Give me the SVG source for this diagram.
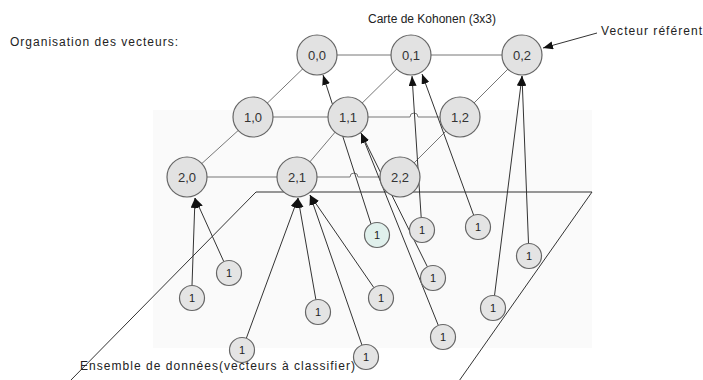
<svg xmlns="http://www.w3.org/2000/svg" width="703" height="380" viewBox="0 0 703 380">
  <defs>
    <marker id="ah" markerUnits="userSpaceOnUse" markerWidth="10" markerHeight="8" refX="10" refY="4" orient="auto">
      <path d="M0,0 L10,4 L0,8 z" fill="#111"/>
    </marker>
  </defs>
  <style>
    .txt { font-family: "Liberation Sans", Arial, sans-serif; font-size: 12px; fill: #222; }
    .grid { stroke: #777; stroke-width: 1; fill: none; }
    .plane { stroke: #333; stroke-width: 1; fill: none; }
    .arr { stroke: #333; stroke-width: 1; fill: none; marker-end: url(#ah); }
    .map circle { fill: #e2e2e2; stroke: #666; stroke-width: 1.2; }
    .map text { font-family: "Liberation Sans", Arial, sans-serif; font-size: 13px; fill: #333; text-anchor: middle; }
    .dat circle { fill: #e4e4e4; stroke: #666; stroke-width: 1.2; }
    .dat text { font-family: "Liberation Sans", Arial, sans-serif; font-size: 11px; fill: #222; text-anchor: middle; }
  </style>
  <rect x="0" y="0" width="703" height="380" fill="#fff"/>
  <rect x="153" y="110" width="439" height="238" fill="#fafafa"/>

  <!-- data set plane -->
  <path class="plane" d="M70,381 L256,192 L592,192 L459,381"/>

  <g id="connectors">
    <!-- map grid -->
    <path class="grid" d="M317,55 H522"/>
    <path class="grid" d="M253,117 H348 H410 A4,4 0 0 1 418,117 H460"/>
    <path class="grid" d="M187,177 H297 H350 A4,4 0 0 1 358,177 H400"/>
    <path class="grid" d="M317,55 L253,117 L187,177"/>
    <path class="grid" d="M411,55 L348,117 L297,177"/>
    <path class="grid" d="M522,55 L460,117 L400,177"/>
    <!-- data to map -->
    <line class="arr" x1="192" y1="285.5" x2="195" y2="198"/>
    <line class="arr" x1="223.8" y1="261.6" x2="195" y2="198"/>
    <line class="arr" x1="246.3" y1="338.3" x2="298" y2="198"/>
    <line class="arr" x1="315.9" y1="299.7" x2="298" y2="198"/>
    <line class="arr" x1="373.9" y1="287.7" x2="310" y2="195"/>
    <line class="arr" x1="362" y1="345.2" x2="310" y2="195"/>
    <line class="arr" x1="427.4" y1="266.8" x2="361" y2="133"/>
    <line class="arr" x1="438.3" y1="325.4" x2="361" y2="133"/>
    <line class="arr" x1="371" y1="224" x2="323" y2="75"/>
    <line class="arr" x1="421.2" y1="217.5" x2="412" y2="76"/>
    <line class="arr" x1="473.7" y1="215.3" x2="422" y2="74"/>
    <line class="arr" x1="494.5" y1="295.6" x2="522" y2="76"/>
    <line class="arr" x1="528.5" y1="243.5" x2="522" y2="76"/>
    <!-- label pointer -->
    <line class="arr" x1="597" y1="33" x2="543" y2="48"/>
  </g>

  <g class="map">
    <g id="n00"><circle cx="317" cy="55" r="20"/><text x="317" y="59.5">0,0</text></g>
    <g id="n01"><circle cx="411" cy="55" r="20"/><text x="411" y="59.5">0,1</text></g>
    <g id="n02"><circle cx="522" cy="55" r="20"/><text x="522" y="59.5">0,2</text></g>
    <g id="n10"><circle cx="253" cy="117" r="20"/><text x="253" y="121.5">1,0</text></g>
    <g id="n11"><circle cx="348" cy="117" r="20"/><text x="348" y="121.5">1,1</text></g>
    <g id="n12"><circle cx="460" cy="117" r="20"/><text x="460" y="121.5">1,2</text></g>
    <g id="n20"><circle cx="187" cy="177" r="20"/><text x="187" y="181.5">2,0</text></g>
    <g id="n21"><circle cx="297" cy="177" r="20"/><text x="297" y="181.5">2,1</text></g>
    <g id="n22"><circle cx="400" cy="177" r="20"/><text x="400" y="181.5">2,2</text></g>
  </g>

  <g class="dat">
    <g id="d1"><circle cx="229" cy="273" r="12.5"/><text x="229" y="277">1</text></g>
    <g id="d2"><circle cx="192" cy="298" r="12.5"/><text x="192" y="302">1</text></g>
    <g id="d3"><circle cx="318" cy="312" r="12.5"/><text x="318" y="316">1</text></g>
    <g id="d4"><circle cx="242" cy="350" r="12.5"/><text x="242" y="354">1</text></g>
    <g id="d5"><circle cx="377" cy="235" r="12.5" style="fill:#e0f0ec"/><text x="377" y="239">1</text></g>
    <g id="d6"><circle cx="422" cy="230" r="12.5"/><text x="422" y="234">1</text></g>
    <g id="d7"><circle cx="478" cy="227" r="12.5"/><text x="478" y="231">1</text></g>
    <g id="d8"><circle cx="529" cy="256" r="12.5"/><text x="529" y="260">1</text></g>
    <g id="d9"><circle cx="433" cy="278" r="12.5"/><text x="433" y="282">1</text></g>
    <g id="d10"><circle cx="381" cy="298" r="12.5"/><text x="381" y="302">1</text></g>
    <g id="d11"><circle cx="493" cy="308" r="12.5"/><text x="493" y="312">1</text></g>
    <g id="d12"><circle cx="443" cy="337" r="12.5"/><text x="443" y="341">1</text></g>
    <g id="d13"><circle cx="366" cy="357" r="12.5"/><text x="366" y="361">1</text></g>
  </g>

  <text class="txt" x="10" y="46" textLength="168" lengthAdjust="spacing">Organisation des vecteurs:</text>
  <text class="txt" x="368" y="23" textLength="128" lengthAdjust="spacing">Carte de Kohonen (3x3)</text>
  <text class="txt" x="601" y="35" textLength="101" lengthAdjust="spacing">Vecteur référent</text>
  <text class="txt" x="80" y="370" textLength="275" lengthAdjust="spacing">Ensemble de données(vecteurs à classifier)</text>
</svg>
